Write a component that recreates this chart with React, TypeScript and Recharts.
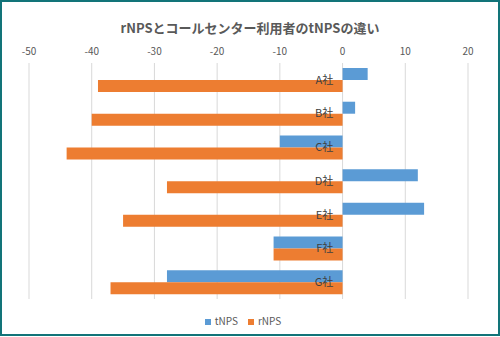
import React from 'react';
import { BarChart, Bar, XAxis, YAxis, CartesianGrid, Legend } from 'recharts';

const companies = ['A社', 'B社', 'C社', 'D社', 'E社', 'F社', 'G社'];
const tNPS = [4, 2, -10, 12, 13, -11, -28];
const rNPS = [-39, -40, -44, -28, -35, -11, -37];
const xTicks = [-50, -40, -30, -20, -10, 0, 10, 20];
const seriesOrder = ['tNPS', 'rNPS'];

const data = companies.map((name, i) => ({ name, tNPS: tNPS[i], rNPS: rNPS[i] }));

const W = 496;
const H = 333;
const margin = { top: 31, right: 30, bottom: 36, left: 26 };
const xMin = -50;
const xMax = 20;
const font = '"Noto Sans CJK JP", "Noto Sans", sans-serif';

// x position of the zero line, where the category labels sit
const plotW = W - margin.left - margin.right;
const zeroX = margin.left + ((0 - xMin) / (xMax - xMin)) * plotW;

const renderCategoryTick = (props: any) => {
  const { y, payload } = props;
  return (
    <text x={zeroX - 9} y={y} dy="0.35em" textAnchor="end" fontSize={11} fill="#404040" fontFamily={font}>
      {payload.value}
    </text>
  );
};

export default function App() {
  return (
    <div
      style={{
        position: 'absolute',
        left: 0,
        top: 0,
        width: 500,
        height: 336,
        boxSizing: 'border-box',
        border: '2px solid #127479',
        background: '#fff',
        fontFamily: font,
      }}
    >
      <div
        style={{
          position: 'absolute',
          top: 16,
          left: 0,
          width: W,
          textAlign: 'center',
          fontSize: 13,
          fontWeight: 'bold',
          color: '#595959',
        }}
      >
        rNPSとコールセンター利用者のtNPSの違い
      </div>
      <BarChart width={W} height={H} data={data} layout="vertical" margin={margin} barGap={0} barSize={12}>
        <CartesianGrid horizontal={false} stroke="#d9d9d9" />
        <XAxis
          type="number"
          orientation="top"
          domain={[xMin, xMax]}
          ticks={xTicks}
          axisLine={false}
          tickLine={false}
          height={30}
          tickMargin={2}
          tick={{ fontSize: 10, fill: '#595959', fontFamily: font }}
        />
        <YAxis
          type="category"
          dataKey="name"
          width={1}
          axisLine={false}
          tickLine={false}
          interval={0}
          tick={renderCategoryTick}
        />
        <Legend
          verticalAlign="middle"
          align="center"
          iconType="square"
          iconSize={6}
          itemSorter={(item: any) => seriesOrder.indexOf(item.value)}
          wrapperStyle={{ top: 311, fontSize: 10 }}
          formatter={(value: string) => <span style={{ color: '#595959' }}>{value}</span>}
        />
        <Bar dataKey="tNPS" fill="#5b9bd5" isAnimationActive={false} />
        <Bar dataKey="rNPS" fill="#ed7d31" isAnimationActive={false} />
      </BarChart>
    </div>
  );
}
